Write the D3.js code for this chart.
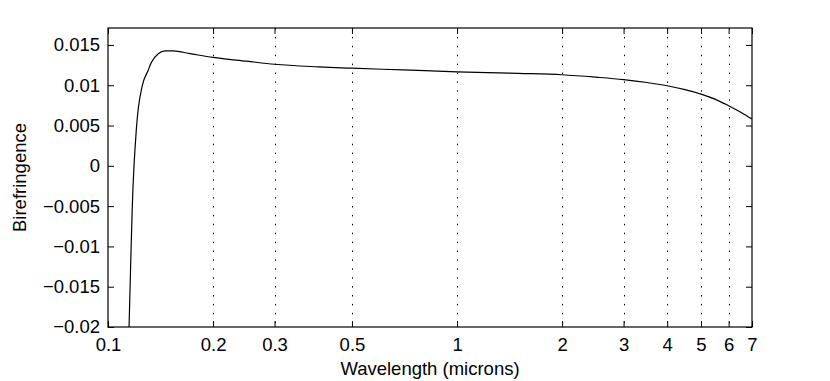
<!DOCTYPE html>
<html>
<head>
<meta charset="utf-8">
<script src="https://cdn.jsdelivr.net/npm/d3@7"></script>
<style>
  body { margin: 0; background: #fff; }
  svg text { font-family: "Liberation Sans", Arial, sans-serif; fill: #000; }
</style>
</head>
<body>
<div id="chart"></div>
<script>
// curve (wavelength in microns, birefringence)
const wavelength = [0.1149, 0.1165, 0.1174, 0.1208, 0.1255, 0.1302, 0.1334, 0.1457, 0.1538, 0.1718,
                    0.2, 0.25, 0.3, 0.4, 0.5, 0.7, 1.0, 1.5, 2, 2.5, 3, 3.5, 4, 4.5, 5, 5.5, 6, 6.5, 7];
const birefringence = [-0.020, -0.010, -0.005, 0.005, 0.0100, 0.0118, 0.0129, 0.01426, 0.01426, 0.01392,
                       0.01345, 0.01298, 0.0126, 0.01228, 0.01211, 0.0119, 0.01166, 0.01147, 0.0113, 0.0110,
                       0.0107, 0.01034, 0.00993, 0.00945, 0.0089, 0.00825, 0.00745, 0.00665, 0.0058];

const xTicks = [0.1, 0.2, 0.3, 0.5, 1, 2, 3, 4, 5, 6, 7];
const xTickLabels = ["0.1", "0.2", "0.3", "0.5", "1", "2", "3", "4", "5", "6", "7"];
const gridTicks = [0.2, 0.3, 0.5, 1, 2, 3, 4, 5, 6];
const yTicks = [-0.02, -0.015, -0.01, -0.005, 0, 0.005, 0.01, 0.015];
const yTickLabels = ["\u22120.02", "\u22120.015", "\u22120.01", "\u22120.005", "0", "0.005", "0.01", "0.015"];

const W = 830, H = 381;
const margin = {top: 28, right: 78, bottom: 54, left: 108},
    width = W - margin.left - margin.right,
    height = H - margin.top - margin.bottom;
const fontSize = "18.5px";

var svg = d3.select("#chart").append("svg")
    .attr("width", W)
    .attr("height", H);

var g = svg.append("g").attr("transform", "translate(" + margin.left + "," + margin.top + ")");

var x = d3.scaleLog()
    .domain([0.1, 7])
    .range([0, width]);

var y = d3.scaleLinear()
    .domain([-0.02, 0.0171])
    .range([height, 0]);

// dotted vertical grid
g.selectAll(".grid")
  .data(gridTicks)
  .enter().append("line")
    .attr("class", "grid")
    .attr("x1", d => Math.round(x(d)) + 0.5)
    .attr("x2", d => Math.round(x(d)) + 0.5)
    .attr("y1", 0)
    .attr("y2", height)
    .attr("stroke", "#000")
    .attr("stroke-width", 1)
    .attr("stroke-dasharray", "1.5,7.4");

// axes, ticks pointing inward
g.append("g")
    .attr("transform", "translate(0," + height + ")")
    .call(d3.axisBottom(x).tickValues(xTicks).tickSizeInner(-6).tickSizeOuter(0).tickPadding(11)
        .tickFormat((d, i) => xTickLabels[i]));
g.append("g")
    .call(d3.axisTop(x).tickValues(xTicks).tickSizeInner(-6).tickSizeOuter(0).tickFormat(""));

g.append("g")
    .call(d3.axisLeft(y).tickValues(yTicks).tickSizeInner(-6).tickSizeOuter(0).tickPadding(8)
        .tickFormat((d, i) => yTickLabels[i]));
g.append("g")
    .attr("transform", "translate(" + width + ",0)")
    .call(d3.axisRight(y).tickValues(yTicks).tickSizeInner(-6).tickSizeOuter(0).tickFormat(""));

g.selectAll(".domain").remove();
g.selectAll(".tick line").attr("stroke", "#000");
g.selectAll(".tick text")
    .style("font-size", fontSize)
    .attr("fill", "#000");

// box
g.append("rect")
    .attr("x", 0)
    .attr("y", 0)
    .attr("width", width)
    .attr("height", height)
    .attr("fill", "none")
    .attr("stroke", "#000")
    .attr("stroke-width", 1.2);

// curve
var data = wavelength.map((w, i) => [w, birefringence[i]]);
var line = d3.line()
    .curve(d3.curveMonotoneX)
    .x(d => x(d[0]))
    .y(d => y(d[1]));

g.append("path")
    .datum(data)
    .attr("d", line)
    .attr("fill", "none")
    .attr("stroke", "#000")
    .attr("stroke-width", 1.2);

// axis titles
svg.append("text")
    .attr("x", margin.left + width / 2)
    .attr("y", 375)
    .style("text-anchor", "middle")
    .style("font-size", fontSize)
    .text("Wavelength (microns)");

svg.append("text")
    .attr("transform", "translate(26," + (margin.top + height / 2) + ") rotate(-90)")
    .style("text-anchor", "middle")
    .style("font-size", fontSize)
    .text("Birefringence");
</script>
</body>
</html>
